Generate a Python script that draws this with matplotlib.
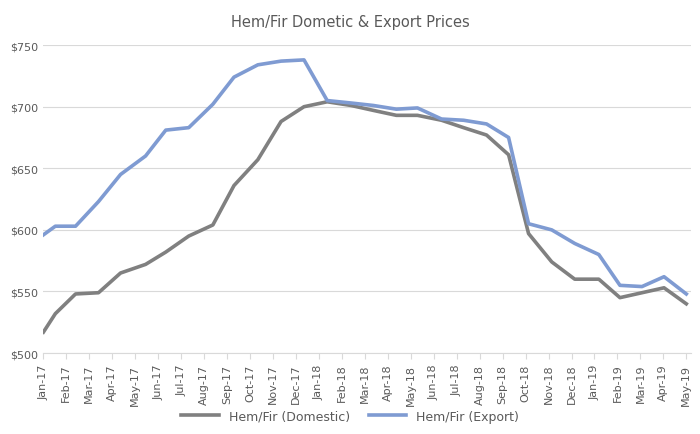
import matplotlib
matplotlib.use("Agg")
import matplotlib.pyplot as plt

tick_labels = ["Jan-17","Feb-17","Mar-17","Apr-17","May-17","Jun-17","Jul-17","Aug-17","Sep-17","Oct-17","Nov-17","Dec-17",
               "Jan-18","Feb-18","Mar-18","Apr-18","May-18","Jun-18","Jul-18","Aug-18","Sep-18","Oct-18","Nov-18","Dec-18",
               "Jan-19","Feb-19","Mar-19","Apr-19","May-19"]
# observation positions in months since Jan-17
months = [0, 0.52, 1.4, 2.4, 3.36, 4.45, 5.33, 6.33, 7.38, 8.3, 9.34, 10.35, 11.35, 12.36, 13.4, 14.37, 15.37,
          16.29, 17.34, 18.3, 19.3, 20.26, 21.13, 22.14, 23.14, 24.19, 25.11, 26.07, 27.03, 28.0]
domestic = [517, 532, 548, 549, 565, 572, 582, 595, 604, 636, 657, 688, 700, 704, 701, 697, 693, 693, 689, 683,
            677, 661, 597, 574, 560, 560, 545, 549, 553, 540]
export = [596, 603, 603, 623, 645, 660, 681, 683, 702, 724, 734, 737, 738, 705, 703, 701, 698, 699, 690, 689,
          686, 675, 605, 600, 589, 580, 555, 554, 562, 548]

fig = plt.figure(figsize=(7, 4.35), dpi=100)
ax = fig.add_axes([0.062, 0.186, 0.925, 0.708])
ax.plot(months, domestic, color="#808080", lw=2.6, label="Hem/Fir (Domestic)")
ax.plot(months, export, color="#7f9bd2", lw=2.6, label="Hem/Fir (Export)")
ax.set_xlim(0, 28.2)
ax.set_ylim(500, 750)
ax.set_yticks(range(500, 751, 50))
ax.set_yticklabels([f"${v}" for v in range(500, 751, 50)])
ax.set_xticks(range(len(tick_labels)))
ax.set_xticklabels(tick_labels, rotation=90)
ax.tick_params(axis="both", colors="#595959", labelsize=8, length=0)
ax.tick_params(axis="x", length=4, color="#d9d9d9")
ax.grid(axis="y", color="#d9d9d9", lw=0.8)
for s in ["top", "right", "left"]:
    ax.spines[s].set_visible(False)
ax.spines["bottom"].set_color("#d9d9d9")
ax.set_axisbelow(True)
fig.suptitle("Hem/Fir Dometic & Export Prices", y=0.965, fontsize=10.5, color="#595959")
fig.legend(loc="lower center", ncol=2, frameon=False, fontsize=9, bbox_to_anchor=(0.5, 0.0), labelcolor="#595959",
           handlelength=3, columnspacing=1.5)
fig.savefig("out.png")
